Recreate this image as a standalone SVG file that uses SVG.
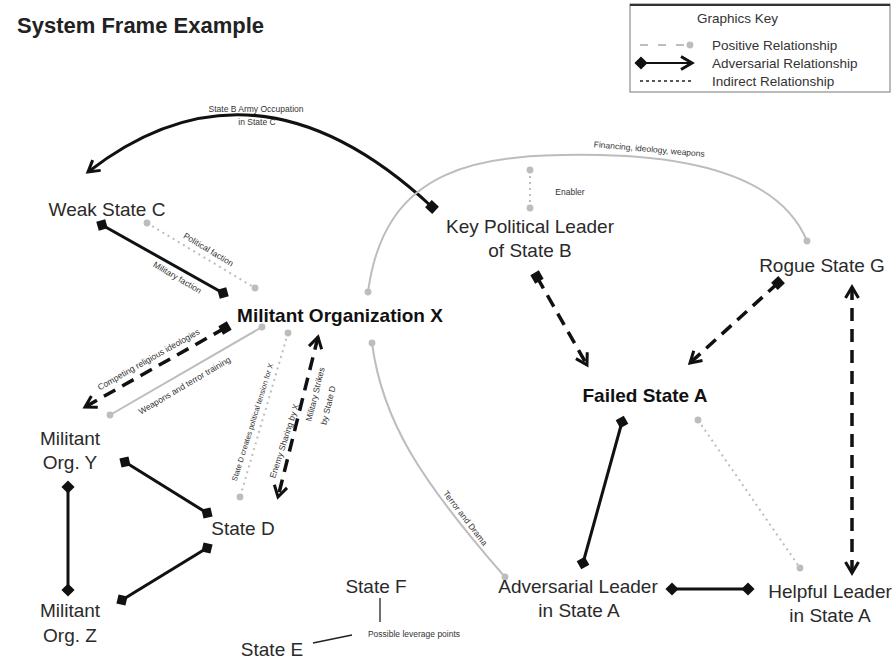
<svg xmlns="http://www.w3.org/2000/svg" width="893" height="671" viewBox="0 0 893 671">
<defs>
<style>
text{font-family:"Liberation Sans",Arial,Helvetica,sans-serif}
.n{font-size:19px;fill:#2a2a2a;text-anchor:middle}
.b{font-weight:bold;fill:#111}
.l{font-size:8.5px;fill:#333;text-anchor:middle}
.k{font-size:13.5px;fill:#333}
.bs{stroke:#111;stroke-width:3;fill:none}
.bd{stroke:#111;stroke-width:3.5;fill:none;stroke-dasharray:13 8}
.gs{stroke:#bdbdbd;stroke-width:2;fill:none}
.gd{stroke:#bdbdbd;stroke-width:2;fill:none;stroke-dasharray:2 4}
.thin{stroke:#222;stroke-width:1.3;fill:none}
</style>
<marker id="dia" viewBox="-8 -8 16 16" markerWidth="15" markerHeight="15" markerUnits="userSpaceOnUse" orient="auto"><path d="M-7,0 L0,-7 L7,0 L0,7Z" fill="#111"/></marker>
<marker id="sq" viewBox="-8 -8 16 16" markerWidth="13" markerHeight="13" markerUnits="userSpaceOnUse" orient="auto"><path d="M-6,-6 H6 V6 H-6Z" fill="#111"/></marker>
<marker id="arr" viewBox="-13 -8 16 16" markerWidth="16" markerHeight="16" markerUnits="userSpaceOnUse" orient="auto-start-reverse"><path d="M-11,-6.5 L0,0 L-11,6.5" fill="none" stroke="#111" stroke-width="3"/></marker>
<marker id="dot" viewBox="-5 -5 10 10" markerWidth="9" markerHeight="9" markerUnits="userSpaceOnUse"><circle r="3.8" fill="#bdbdbd"/></marker>
</defs>
<rect width="893" height="671" fill="#fff"/>
<text x="17" y="33" style="font-size:22px;font-weight:bold;fill:#222">System Frame Example</text>

<g id="key">
<rect x="630" y="4" width="260" height="88" fill="#fff" stroke="#777" stroke-width="1"/>
<line x1="630" y1="5" x2="890" y2="5" stroke="#333" stroke-width="2"/>
<text class="k" x="697" y="23">Graphics Key</text>
<line x1="640" y1="45" x2="690" y2="45" class="gs" stroke-dasharray="8 10" marker-end="url(#dot)"/>
<text class="k" x="712" y="50">Positive Relationship</text>
<line x1="641" y1="63" x2="692" y2="63" stroke="#111" stroke-width="2" marker-start="url(#dia)" marker-end="url(#arr)"/>
<text class="k" x="712" y="68">Adversarial Relationship</text>
<line x1="640" y1="81" x2="692" y2="81" stroke="#222" stroke-width="1.5" stroke-dasharray="3 3"/>
<text class="k" x="712" y="86">Indirect Relationship</text>
</g>

<g id="connectors">
<path class="bs" d="M432,207 Q255,42 88,172" marker-start="url(#sq)" marker-end="url(#arr)"/>
<path class="gs" d="M807,241 C790,200 740,158 600,155 C480,153 385,165 368,292" marker-start="url(#dot)" marker-end="url(#dot)"/>
<path class="gd" d="M530,208 L530,170" marker-start="url(#dot)" marker-end="url(#dot)"/>
<path class="bs" d="M102,225 L223,293" marker-start="url(#dia)" marker-end="url(#dia)"/>
<path class="gd" d="M147,223 L255,288" marker-start="url(#dot)" marker-end="url(#dot)"/>
<path class="bd" d="M225,328 L85,407" marker-start="url(#sq)" marker-end="url(#arr)"/>
<path class="gs" d="M262,327 L110,415" marker-start="url(#dot)" marker-end="url(#dot)"/>
<path class="gd" d="M288,333 L240,497" marker-start="url(#dot)" marker-end="url(#dot)"/>
<path class="bd" d="M318,337 L278,497" marker-start="url(#arr)" marker-end="url(#arr)"/>
<path class="bs" d="M125,462 L207,513" marker-start="url(#dia)" marker-end="url(#dia)"/>
<path class="bs" d="M68,487 L68,590" marker-start="url(#dia)" marker-end="url(#dia)"/>
<path class="bs" d="M207,548 L122,600" marker-start="url(#dia)" marker-end="url(#dia)"/>
<path class="gs" d="M372,343 C382,420 420,480 505,577" marker-start="url(#dot)" marker-end="url(#dot)"/>
<path class="bd" d="M537,277 L587,365" marker-start="url(#sq)" marker-end="url(#arr)"/>
<path class="bd" d="M778,283 L690,363" marker-start="url(#sq)" marker-end="url(#arr)"/>
<path class="bd" d="M852,287 L852,573" marker-start="url(#arr)" marker-end="url(#arr)"/>
<path class="bs" d="M622,422 L583,563" marker-start="url(#dia)" marker-end="url(#dia)"/>
<path class="gd" d="M698,420 L800,568" marker-start="url(#dot)" marker-end="url(#dot)"/>
<path class="bs" d="M672,589 L748,589" marker-start="url(#dia)" marker-end="url(#dia)"/>
<path class="thin" d="M380,598 L380,622"/>
<path class="thin" d="M313,643 L352,635"/>

<text class="l" x="256" y="112">State B Army Occupation</text>
<text class="l" x="257" y="125">in State C</text>
<text class="l" transform="translate(649,152) rotate(5)">Financing, ideology, weapons</text>
<text class="l" x="570" y="195">Enabler</text>
<text class="l" transform="translate(207,252) rotate(31)">Political faction</text>
<text class="l" transform="translate(176,280) rotate(30.5)">Military faction</text>
<text class="l" transform="translate(150,362) rotate(-29.5)">Competing religious ideologies</text>
<text class="l" transform="translate(186,388) rotate(-30.5)">Weapons and terror training</text>
<text class="l" transform="translate(255,423) rotate(-72.5)" style="font-size:7.5px">State D creates political tension for X</text>
<text class="l" transform="translate(287,442) rotate(-72)">Enemy Sharing by X</text>
<text class="l" transform="translate(318,395) rotate(-76)">Military Strikes</text>
<text class="l" transform="translate(331,406) rotate(-76)">by State D</text>
<text class="l" transform="translate(463,520) rotate(52.5)">Terror and Drama</text>
<text class="l" x="414" y="637">Possible leverage points</text>
</g>

<g id="weak-state-c"><text class="n" x="107" y="216">Weak State C</text></g>
<g id="key-political-leader"><text class="n" x="530" y="233">Key Political Leader</text><text class="n" x="530" y="257">of State B</text></g>
<g id="rogue-state-g"><text class="n" x="822" y="272">Rogue State G</text></g>
<g id="militant-org-x"><text class="n b" x="340" y="322">Militant Organization X</text></g>
<g id="failed-state-a"><text class="n b" x="645" y="402">Failed State A</text></g>
<g id="militant-org-y"><text class="n" x="70" y="445">Militant</text><text class="n" x="70" y="469">Org. Y</text></g>
<g id="state-d"><text class="n" x="243" y="535">State D</text></g>
<g id="militant-org-z"><text class="n" x="70" y="617">Militant</text><text class="n" x="70" y="642">Org. Z</text></g>
<g id="state-f"><text class="n" x="376" y="593">State F</text></g>
<g id="state-e"><text class="n" x="272" y="656">State E</text></g>
<g id="adversarial-leader"><text class="n" x="578" y="593">Adversarial Leader</text><text class="n" x="579" y="617">in State A</text></g>
<g id="helpful-leader"><text class="n" x="830" y="598">Helpful Leader</text><text class="n" x="830" y="622">in State A</text></g>
</svg>
